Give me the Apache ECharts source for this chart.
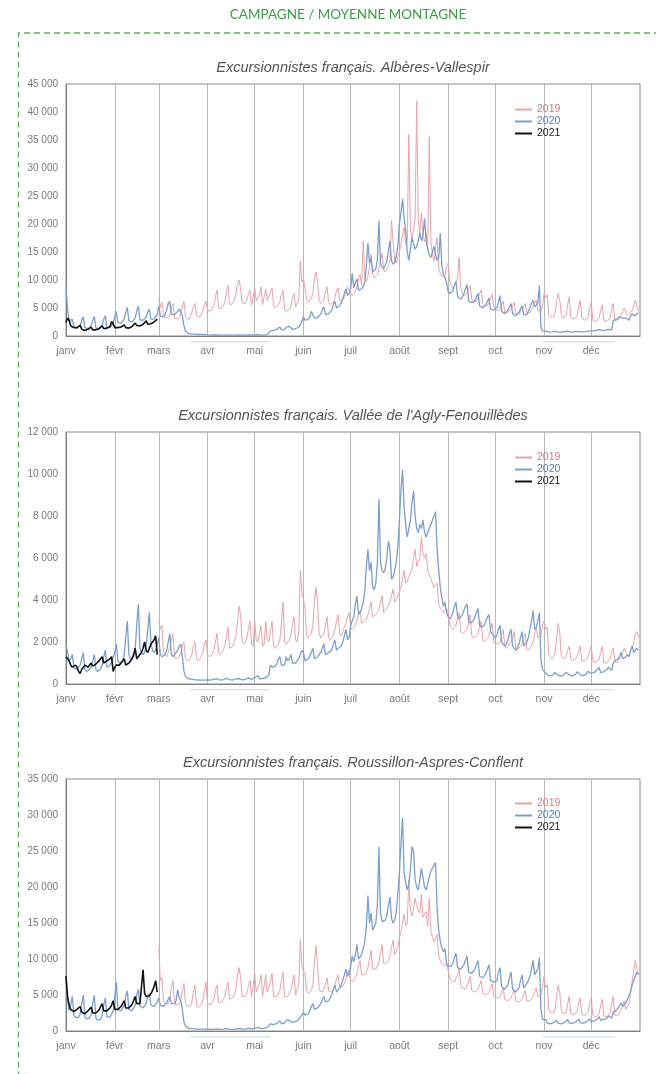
<!DOCTYPE html>
<html>
<head>
<meta charset="utf-8">
<script src="https://cdn.jsdelivr.net/npm/echarts@6/dist/echarts.min.js"></script>
<style>
  html, body { margin: 0; padding: 0; background: #fff; }
  #chart { width: 656px; height: 1074px; }
</style>
</head>
<body>
<div id="chart"></div>
<script>
const heading = 'CAMPAGNE / MOYENNE MONTAGNE'
const chartTitles = [
  'Excursionnistes français. Albères-Vallespir',
  "Excursionnistes français. Vallée de l'Agly-Fenouillèdes",
  'Excursionnistes français. Roussillon-Aspres-Conflent'
]
const monthNames = ['janv', 'févr', 'mars', 'avr', 'mai', 'juin', 'juil', 'août', 'sept', 'oct', 'nov', 'déc']
const monthDays = [31, 28, 31, 30, 31, 30, 31, 31, 30, 31, 30, 31]
const years = ['2019', '2020', '2021']
const yMax = [45000, 12000, 35000]
const yStep = [5000, 2000, 5000]
// confinements (jour de l'année, début / fin)
const lockdowns = [[79, 130], [303, 349]]

// Albères-Vallespir : 2019 commence en mars
const alb2019 = [
  [6800, 5200, 6000, 3800, 3200, 3000, 3400, 3800, 5000, 5800, 3200, 2900, 3000, 3300, 3900, 5200, 6200, 3400, 3100, 3000, 3500, 4200, 5200, 5800, 3600, 3300, 3400, 3800, 4600, 5400, 6200],
  [4600, 4300, 4500, 4800, 5400, 7000, 8200, 5000, 4700, 4900, 5300, 6000, 7800, 9000, 5600, 5400, 5800, 6500, 7400, 9200, 10000, 8600, 5900, 5600, 5800, 6400, 7600, 8200, 5400, 5200],
  [8600, 6200, 6000, 7400, 8800, 5600, 5800, 8400, 6400, 6200, 7800, 8600, 5400, 5000, 5200, 5600, 6200, 7400, 8200, 4800, 4400, 4200, 4800, 5400, 6800, 7600, 5200, 5000, 6400, 13400, 9600],
  [10200, 8400, 6400, 6000, 6200, 6800, 7600, 10400, 11400, 9400, 6200, 5800, 5600, 6400, 8000, 8800, 6000, 5600, 5400, 6000, 6800, 8200, 8600, 6400, 6200, 6400, 7000, 7800, 8800, 9000],
  [7600, 7200, 7400, 8000, 8800, 10200, 11000, 9000, 17000, 10400, 9800, 10600, 12400, 14600, 11000, 10400, 10200, 11000, 12000, 13400, 14800, 11800, 11400, 11600, 12400, 13600, 20600, 16800, 13600, 13000, 14200],
  [15000, 16400, 18000, 19400, 16400, 17000, 36000, 19200, 17200, 19000, 21000, 42000, 20400, 18600, 22000, 17400, 16800, 18400, 15600, 35600, 17000, 14600, 13400, 15800, 17600, 12000, 11200, 10600, 10400, 10800, 12400],
  [13000, 9800, 9000, 8600, 8800, 9400, 10400, 14000, 8600, 7600, 7200, 7000, 7600, 8400, 9000, 6600, 6200, 6000, 6200, 6800, 7600, 8200, 5800, 5400, 5200, 5400, 6000, 6800, 7400, 5200],
  [4600, 4400, 4500, 5000, 5600, 6200, 4200, 4000, 4200, 4400, 4800, 5400, 6000, 4000, 3800, 3900, 4200, 4600, 5200, 5800, 4200, 4000, 4200, 4600, 5000, 5800, 6400, 4600, 4400, 4400, 5400],
  [7600, 6800, 7400, 3800, 3400, 3200, 3400, 4000, 6200, 7600, 6400, 3600, 3200, 3200, 3600, 5600, 7000, 3400, 3000, 3000, 3200, 3600, 5200, 6400, 3200, 2900, 2800, 3000, 3400, 5000],
  [6000, 2800, 2600, 2500, 2700, 3200, 4600, 5600, 2800, 2600, 2600, 2800, 3300, 4800, 5800, 2900, 2800, 2900, 3200, 3800, 4400, 5000, 4200, 3800, 3600, 4200, 4600, 5400, 6400, 5400, 4400]
]
const alb2020 = [
  [8800, 4800, 2600, 2400, 3000, 1600, 1400, 1400, 1500, 1800, 2800, 3400, 1500, 1300, 1300, 1400, 1800, 2800, 3500, 1400, 1300, 1300, 1500, 1900, 3000, 3600, 1500, 1400, 1500, 1700, 2200],
  [3400, 4400, 2400, 2200, 2300, 2500, 3000, 4200, 5100, 2700, 2500, 2500, 2700, 3200, 4500, 5300, 2900, 2800, 2800, 3000, 3400, 4300, 4800, 3000, 2900, 3000, 3200, 3800],
  [5400, 3600, 3400, 3400, 3800, 4600, 5800, 6200, 3800, 3600, 3800, 4000, 4400, 4800, 5000, 3600, 1800, 900, 600, 450, 400, 380, 350, 340, 320, 300, 300, 290, 280, 280, 270],
  [160, 150, 150, 160, 180, 200, 190, 150, 140, 150, 150, 170, 190, 180, 150, 150, 140, 150, 170, 190, 190, 160, 150, 150, 160, 180, 210, 200, 160, 160],
  [200, 220, 230, 180, 170, 180, 190, 220, 260, 280, 900, 1000, 1000, 1100, 1200, 1500, 1600, 1100, 1100, 1150, 1600, 1400, 1700, 1800, 1200, 1200, 1300, 1400, 1600, 2000, 2200],
  [3400, 2800, 2900, 3000, 3400, 4400, 4600, 3200, 3200, 3300, 3500, 3900, 4800, 5200, 3800, 3800, 4000, 4200, 4600, 5600, 6200, 5000, 5000, 5400, 6000, 6600, 7600, 8400, 7200, 7600],
  [8400, 11200, 8600, 9400, 10200, 8200, 8000, 8400, 8800, 9600, 12600, 16600, 13000, 14000, 11400, 11200, 12000, 13600, 20600, 13000, 12400, 12000, 12600, 13400, 15200, 17000, 13400, 12800, 13200, 14200, 16000],
  [20000, 22000, 24500, 21000, 19000, 15000, 13500, 15500, 17500, 16500, 15500, 16000, 17000, 18500, 17000, 18000, 21000, 17000, 15500, 14500, 14000, 15000, 16000, 14500, 13500, 14000, 18400, 12500, 11000, 10500, 9500],
  [8000, 7600, 7400, 8000, 9000, 9800, 7000, 6800, 6600, 7000, 7600, 8400, 9200, 6400, 6000, 5800, 6000, 6400, 7000, 7600, 5400, 5200, 5000, 5200, 5600, 6200, 6800, 4800, 4600, 4600],
  [4600, 5000, 6000, 7200, 4400, 4200, 4000, 4200, 4600, 5200, 5800, 4000, 3800, 3600, 3800, 4200, 4800, 5400, 3800, 3600, 3800, 4400, 5000, 5800, 6400, 5200, 5400, 5800, 9000, 1600, 900],
  [800, 850, 700, 680, 700, 720, 760, 820, 880, 700, 680, 700, 720, 760, 800, 860, 700, 690, 700, 720, 760, 820, 880, 720, 700, 720, 740, 780, 860, 920],
  [900, 920, 950, 1000, 1100, 1150, 980, 1000, 1020, 1050, 1100, 1200, 1250, 1100, 2800, 3000, 2900, 3100, 3400, 3600, 3200, 3100, 3200, 3000, 2800, 3600, 4000, 3600, 3700, 3900, 4200]
]
const alb2021 = [
  [2400, 3200, 2800, 1800, 1600, 1500, 1400, 1500, 1800, 1900, 1200, 1100, 1000, 1100, 1200, 1500, 1600, 1100, 1000, 1100, 1100, 1300, 1600, 1800, 1300, 1300, 1400, 1500, 1700, 2600, 2200],
  [1500, 1400, 1500, 1500, 1600, 1800, 2000, 1500, 1400, 1400, 1500, 1700, 2000, 2300, 1900, 1800, 1800, 1900, 2100, 2400, 2700, 2100, 2000, 2200, 2300, 2500, 2800, 3000]
]

// Vallée de l'Agly-Fenouillèdes
const agly2019 = [
  [3000, 2600, 2800, 1500, 1400, 1300, 1500, 1700, 2100, 2400, 1300, 1200, 1200, 1300, 1500, 1800, 2000, 1200, 1100, 1100, 1200, 1400, 1800, 2000, 1200, 1100, 1200, 1300, 1500, 1900, 2100],
  [1400, 1300, 1300, 1400, 1600, 2000, 2400, 1500, 1400, 1500, 1600, 1800, 2200, 2700, 1700, 1700, 1800, 2000, 2300, 2900, 3700, 3300, 2000, 1900, 2000, 2200, 2600, 3000, 1900, 1800],
  [3000, 2100, 2000, 2400, 2800, 1800, 1900, 3000, 2100, 2000, 2500, 3000, 1800, 1700, 1800, 1900, 2100, 2900, 3900, 2000, 1900, 2000, 2100, 2300, 2800, 3200, 2100, 2000, 2500, 5400, 4400],
  [4000, 3600, 2300, 2200, 2200, 2400, 2800, 4000, 4600, 3800, 2400, 2200, 2200, 2400, 2800, 3200, 2200, 2100, 2200, 2300, 2600, 3000, 3300, 2400, 2300, 2500, 2700, 2900, 3200, 3400],
  [2700, 2600, 2700, 2800, 3000, 3300, 3500, 2900, 2900, 3000, 3100, 3300, 3600, 3900, 3200, 3200, 3300, 3400, 3600, 3900, 4200, 3400, 3500, 3600, 3700, 3900, 4200, 4500, 3900, 4000, 4200],
  [4400, 4600, 5000, 5400, 4800, 4900, 5100, 5300, 5500, 6000, 6400, 5600, 5800, 6000, 7000, 6200, 6000, 6200, 5400, 5200, 5000, 4800, 4600, 4700, 4800, 3800, 3600, 3500, 3400, 3500, 3600],
  [3400, 2800, 2700, 2600, 2700, 2800, 3100, 3400, 2500, 2400, 2400, 2500, 2600, 2900, 3300, 2300, 2200, 2200, 2300, 2400, 2700, 3000, 2100, 2000, 2100, 2200, 2300, 2600, 2900, 2000],
  [2000, 1900, 1900, 2000, 2300, 2600, 1800, 1700, 1800, 1900, 2000, 2200, 2500, 1700, 1700, 1700, 1800, 1900, 2200, 2400, 1700, 1600, 1700, 1800, 2000, 2400, 2700, 2200, 2200, 2300, 2800],
  [3000, 2600, 2700, 1400, 1300, 1200, 1300, 1500, 2200, 2900, 2400, 1300, 1200, 1200, 1300, 1600, 1800, 1200, 1100, 1100, 1200, 1300, 1600, 1800, 1100, 1100, 1100, 1200, 1300, 1600],
  [1800, 1100, 1000, 1000, 1100, 1200, 1500, 1800, 1000, 1000, 1000, 1100, 1200, 1500, 1700, 1100, 1000, 1100, 1200, 1300, 1500, 1700, 1500, 1400, 1300, 1600, 1700, 2000, 2400, 2500, 2200]
]
const agly2020 = [
  [1900, 1500, 1100, 1200, 1400, 800, 700, 700, 800, 900, 1200, 1500, 700, 600, 600, 700, 800, 1100, 1400, 700, 600, 600, 700, 900, 1300, 1600, 800, 800, 900, 1000, 1300],
  [1500, 1900, 1100, 1000, 1000, 1100, 1400, 2200, 3000, 1400, 1200, 1200, 1300, 1700, 2800, 3800, 1700, 1500, 1400, 1500, 1800, 2600, 3400, 2000, 1600, 1500, 1600, 1900],
  [2200, 1400, 1300, 1300, 1400, 1600, 2000, 2400, 1400, 1300, 1400, 1500, 1600, 1800, 1900, 1300, 600, 350, 300, 250, 250, 230, 220, 200, 200, 190, 190, 180, 180, 180, 170],
  [200, 190, 180, 200, 230, 260, 240, 200, 190, 190, 210, 240, 270, 250, 210, 200, 190, 210, 250, 280, 260, 210, 200, 200, 220, 260, 290, 270, 220, 210],
  [300, 350, 400, 250, 240, 260, 270, 300, 380, 420, 900, 800, 800, 850, 950, 1200, 1300, 900, 850, 900, 1300, 1100, 1200, 1400, 1000, 950, 1000, 1100, 1200, 1400, 1600],
  [1500, 1100, 1100, 1200, 1300, 1500, 1700, 1200, 1200, 1300, 1300, 1500, 1700, 1900, 1400, 1400, 1500, 1500, 1600, 1900, 2100, 1600, 1700, 1700, 1800, 2000, 2300, 2600, 2100, 2200],
  [2800, 3000, 3200, 3800, 4200, 3300, 3400, 3600, 3900, 4400, 5600, 6400, 5400, 5800, 4600, 4500, 4800, 5800, 8800, 5800, 5400, 5300, 5500, 6000, 6800, 6400, 5000, 5100, 5400, 5800, 6500],
  [7800, 9200, 10200, 8400, 7600, 7000, 7400, 7800, 8600, 9200, 8000, 7400, 7200, 7600, 7400, 7800, 7200, 7000, 7200, 7400, 7600, 7800, 8000, 8200, 6400, 5400, 4600, 4100, 3700, 3900, 3400],
  [3200, 3100, 3200, 3400, 3700, 3900, 3200, 3100, 3200, 3300, 3500, 3700, 3800, 3000, 2900, 2900, 3000, 3200, 3400, 3600, 2800, 2700, 2700, 2800, 3000, 3200, 3300, 2500, 2400, 2400],
  [2200, 2300, 2600, 2800, 2000, 1900, 1800, 1900, 2100, 2400, 2600, 1800, 1700, 1600, 1700, 1900, 2200, 2500, 1800, 1900, 2000, 2200, 2600, 3000, 3500, 2600, 2700, 3000, 3400, 1200, 700],
  [600, 650, 450, 400, 380, 400, 450, 550, 620, 420, 380, 370, 400, 450, 560, 640, 430, 390, 380, 400, 460, 580, 650, 440, 400, 400, 430, 480, 600, 680],
  [500, 520, 550, 600, 700, 800, 550, 560, 580, 620, 700, 800, 850, 650, 1000, 1100, 1100, 1200, 1300, 1500, 1200, 1200, 1300, 1400, 1300, 1600, 1800, 1500, 1600, 1700, 1600]
]
const agly2021 = [
  [1300, 1200, 1100, 900, 800, 850, 900, 800, 600, 500, 700, 800, 900, 850, 800, 900, 1000, 850, 900, 950, 1000, 1100, 1200, 1300, 1000, 1000, 1100, 1100, 1200, 1300, 600],
  [800, 900, 950, 900, 1000, 1100, 1200, 900, 950, 1000, 1100, 1200, 1400, 1700, 1200, 1300, 1400, 1500, 1700, 2000, 1600, 1500, 1700, 1900, 2000, 2100, 2300, 1400]
]

// Roussillon-Aspres-Conflent
const rou2019 = [
  [11500, 7000, 7400, 4200, 3800, 3600, 3800, 4400, 6000, 7000, 4000, 3600, 3500, 3700, 4200, 5600, 6600, 3800, 3400, 3300, 3500, 4000, 5400, 6400, 3600, 3300, 3300, 3600, 4200, 5600, 6800],
  [3800, 3600, 3600, 3800, 4400, 5600, 6400, 4000, 3900, 4000, 4200, 4800, 6000, 6800, 4400, 4400, 4600, 5000, 5800, 7600, 8800, 7600, 4800, 4600, 4800, 5200, 6200, 7000, 4800, 4600],
  [8000, 5400, 5200, 6600, 7800, 4800, 5000, 7800, 5400, 5200, 6800, 8000, 4800, 4600, 4800, 5000, 5600, 7000, 8200, 4800, 4600, 4800, 5000, 5600, 6800, 7800, 5000, 5000, 6400, 12600, 9000],
  [8800, 7800, 5600, 5200, 5200, 5600, 6400, 9600, 11800, 9000, 5600, 5400, 5400, 5800, 6600, 7400, 5600, 5400, 5400, 5800, 6400, 7200, 7800, 6000, 6000, 6200, 6600, 7200, 8000, 8400],
  [7000, 6800, 7000, 7400, 8000, 9000, 9800, 7800, 7600, 7800, 8200, 8800, 10000, 11200, 8600, 8400, 8600, 9000, 9600, 10800, 12000, 9400, 9200, 9400, 9800, 10400, 11600, 12600, 10600, 10800, 11600],
  [13000, 13800, 15000, 16200, 14600, 15000, 21000, 16800, 16000, 17000, 18400, 17400, 16800, 16400, 19000, 15800, 15600, 16600, 14600, 18400, 14000, 13000, 12400, 12800, 13400, 10400, 9800, 9400, 9200, 9000, 9400],
  [9600, 7400, 7000, 6800, 6800, 7000, 7800, 8600, 6400, 6000, 5800, 5800, 6000, 6800, 7600, 5600, 5400, 5400, 5600, 5800, 6400, 7000, 5200, 5000, 5000, 5200, 5400, 6000, 6600, 4800],
  [4800, 4600, 4600, 4800, 5400, 6000, 4400, 4200, 4200, 4400, 4600, 5200, 5800, 4200, 4000, 4000, 4200, 4400, 5000, 5600, 4200, 4000, 4200, 4400, 4800, 5400, 6000, 4800, 4800, 5000, 6400],
  [7600, 6000, 6400, 3000, 2600, 2400, 2500, 3000, 4800, 6400, 5200, 2800, 2400, 2300, 2500, 3800, 4800, 2400, 2200, 2200, 2300, 2700, 3800, 4600, 2300, 2100, 2100, 2200, 2600, 3800],
  [4600, 2200, 2000, 1900, 2000, 2400, 3600, 4400, 2100, 2000, 2000, 2100, 2500, 3800, 4800, 2200, 2100, 2200, 2400, 2900, 3600, 4200, 3000, 3200, 3800, 5400, 6800, 8400, 9800, 8600, 8000]
]
const rou2020 = [
  [7600, 4400, 2800, 3600, 4800, 2200, 1900, 1800, 1900, 2400, 3800, 5000, 2000, 1700, 1600, 1800, 2300, 3800, 5000, 1800, 1500, 1400, 1600, 2200, 3600, 4600, 2000, 1800, 1900, 2100, 2800],
  [4800, 6800, 3000, 2800, 2800, 3000, 3600, 4800, 5600, 3000, 2800, 2800, 3000, 3600, 5000, 5800, 3400, 3200, 3200, 3400, 3800, 4800, 5200, 3600, 3400, 3400, 3600, 4000],
  [4600, 3600, 3400, 3400, 3600, 3900, 4400, 4800, 3800, 3600, 3800, 4200, 5700, 4600, 4200, 3000, 1200, 700, 500, 400, 350, 320, 300, 300, 280, 270, 260, 260, 250, 250, 240],
  [240, 230, 230, 240, 260, 300, 280, 240, 230, 230, 250, 280, 320, 300, 250, 240, 230, 250, 290, 330, 310, 260, 250, 250, 270, 310, 350, 330, 270, 260],
  [400, 450, 500, 330, 320, 340, 360, 420, 500, 560, 1000, 900, 900, 950, 1050, 1300, 1400, 1000, 1000, 1100, 1500, 1300, 1500, 1700, 1200, 1200, 1300, 1400, 1600, 1900, 2100],
  [2600, 2200, 2300, 2400, 2800, 3400, 3800, 3000, 3000, 3200, 3400, 3800, 4400, 4800, 4000, 4000, 4200, 4600, 5000, 5800, 6400, 5400, 5600, 6000, 6400, 7000, 7800, 8600, 7600, 8000],
  [9000, 10400, 9600, 10600, 12000, 10000, 10200, 10600, 11400, 12400, 14600, 18800, 15000, 16400, 14000, 14200, 15000, 17400, 25600, 16400, 15200, 15000, 15400, 16000, 17400, 18600, 15600, 15000, 15400, 16400, 19000],
  [22000, 26000, 29600, 22000, 20600, 19600, 20400, 22400, 25600, 25000, 21000, 20000, 19600, 21000, 22600, 22800, 20000, 19600, 20400, 21400, 22200, 22600, 23000, 23400, 17000, 14000, 12400, 11600, 11000, 11400, 9400],
  [9000, 8800, 9000, 9400, 10200, 10800, 8800, 8600, 8600, 8800, 9200, 9800, 10400, 8200, 8000, 8000, 8200, 8600, 9200, 9800, 7600, 7400, 7400, 7600, 8000, 8600, 9200, 7000, 6800, 6800],
  [6600, 7000, 8200, 8800, 6200, 6000, 5800, 6000, 6400, 7400, 8200, 5800, 5600, 5400, 5600, 6000, 7000, 7800, 6000, 6200, 6600, 7000, 7600, 8600, 9800, 7800, 8000, 8600, 10200, 3000, 1600],
  [1400, 1600, 1100, 1000, 1000, 1050, 1150, 1300, 1500, 1050, 1000, 1000, 1100, 1200, 1400, 1600, 1100, 1050, 1050, 1100, 1250, 1450, 1650, 1150, 1100, 1100, 1200, 1300, 1500, 1700],
  [1300, 1300, 1400, 1500, 1700, 2000, 1500, 1500, 1600, 1600, 1800, 2100, 2300, 1800, 2600, 2800, 2900, 3100, 3500, 3900, 3400, 3600, 3900, 4400, 4200, 5400, 6400, 7000, 7600, 8200, 7800]
]
const rou2021 = [
  [7600, 4800, 3600, 3000, 2800, 2700, 2800, 3000, 3200, 3400, 2600, 2500, 2400, 2600, 2800, 3000, 3300, 2500, 2400, 2500, 2600, 2900, 3400, 3800, 2800, 2700, 2800, 3000, 3200, 3600, 4200],
  [3000, 2900, 3000, 3100, 3400, 3800, 4200, 3200, 3100, 3200, 3400, 3700, 4200, 4800, 3800, 3600, 3800, 4000, 8500, 5200, 4800, 4800, 4900, 5200, 5600, 6200, 7000, 5400]
]

const seriesByChart = [
  [[alb2019, 2], [alb2020, 0], [alb2021, 0]],
  [[agly2019, 2], [agly2020, 0], [agly2021, 0]],
  [[rou2019, 2], [rou2020, 0], [rou2021, 0]]
]

const colors = ['#e8a4ab', '#7d9fcd', '#141414']
const legendColors = ['#d77a86', '#5b80bb', '#1a1a1a']
const lineWidths = [1, 1.3, 1.6]
const font = 'Liberation Sans, Arial, sans-serif'

const monthStart = []
let total = 0
for (const d of monthDays) {
  monthStart.push(total)
  total += d
}
const dayCount = total + 1
const dayLabels = []
for (let i = 0; i < dayCount; i++) {
  const m = monthStart.indexOf(i)
  dayLabels.push(m >= 0 ? monthNames[m] : '')
}

function daily(monthly, firstMonth) {
  const out = new Array(dayCount).fill(null)
  monthly.forEach((vals, i) => {
    const m = firstMonth + i
    vals.slice(0, monthDays[m]).forEach((v, j) => {
      out[monthStart[m] + j] = v
    })
  })
  return out
}

function lockdownLine() {
  const out = new Array(dayCount).fill(null)
  for (const [a, b] of lockdowns) {
    for (let i = a; i <= b; i++) out[i] = 0
  }
  return out
}

function thousands(v) {
  return String(v).replace(/\B(?=(\d{3})+(?!\d))/g, ' ')
}

const plotLeft = 66
const plotRight = 16
const plotTop = [84, 432, 779]
const plotHeight = 252
const titleTop = [60, 408, 755]
const legendTop = [104, 452, 798]

const isMonthStart = idx => monthStart.indexOf(idx) >= 0

const grid = []
const xAxis = []
const yAxis = []
const series = []
const title = [{
  text: heading,
  left: 348,
  top: 8,
  textAlign: 'center',
  padding: 0,
  textStyle: { fontFamily: 'Lato, Open Sans, sans-serif', fontSize: 13.5, fontWeight: 'normal', color: '#3c9e47' }
}]
const legend = []

for (let k = 0; k < 3; k++) {
  grid.push({
    left: plotLeft, right: plotRight, top: plotTop[k], height: plotHeight,
    show: true, borderColor: '#8c8c8c', borderWidth: 1, backgroundColor: 'transparent',
    outerBoundsMode: 'none'
  })
  xAxis.push({
    type: 'category',
    gridIndex: k,
    data: dayLabels,
    boundaryGap: false,
    axisLine: { show: true, lineStyle: { color: '#808080', width: 1 } },
    axisTick: { show: false },
    axisLabel: {
      interval: idx => isMonthStart(idx),
      color: '#7a7a7a',
      fontFamily: font,
      fontSize: 10.5,
      margin: 10
    },
    splitLine: {
      show: true,
      interval: idx => idx > 0 && isMonthStart(idx),
      lineStyle: { color: '#b8b8b8', width: 1 }
    }
  })
  yAxis.push({
    type: 'value',
    gridIndex: k,
    min: 0,
    max: yMax[k],
    interval: yStep[k],
    axisLine: { show: true, lineStyle: { color: '#808080' } },
    axisTick: { show: false },
    splitLine: { show: false },
    axisLabel: {
      formatter: thousands,
      color: '#7a7a7a',
      fontFamily: font,
      fontSize: 10,
      margin: 8
    }
  })
  title.push({
    text: chartTitles[k],
    left: 353,
    top: titleTop[k],
    textAlign: 'center',
    padding: 0,
    textStyle: { fontFamily: font, fontSize: 14.5, fontStyle: 'italic', fontWeight: 'normal', color: '#555' }
  })
  legend.push({
    left: 515,
    top: legendTop[k],
    orient: 'vertical',
    padding: 0,
    itemGap: 1,
    itemWidth: 17,
    itemHeight: 2,
    icon: 'rect',
    selectedMode: false,
    textStyle: { fontFamily: font, fontSize: 10.5 },
    data: years.map((y, i) => ({ name: y, textStyle: { color: legendColors[i] } }))
  })
  seriesByChart[k].forEach(([monthly, firstMonth], i) => {
    series.push({
      type: 'line',
      name: years[i],
      xAxisIndex: k,
      yAxisIndex: k,
      data: daily(monthly, firstMonth),
      symbol: 'none',
      showSymbol: false,
      connectNulls: true,
      silent: true,
      z: 2 + i,
      lineStyle: { color: colors[i], width: lineWidths[i] },
      itemStyle: { color: colors[i] }
    })
  })
}

// trait clair sous l'axe pour les périodes de confinement
for (let k = 0; k < 3; k++) {
  grid.push({
    left: plotLeft, right: plotRight, top: plotTop[k] + plotHeight + 5, height: 1,
    outerBoundsMode: 'none'
  })
  xAxis.push({ type: 'category', gridIndex: 3 + k, data: dayLabels, boundaryGap: false, show: false })
  yAxis.push({ type: 'value', gridIndex: 3 + k, min: 0, max: 1, show: false })
  series.push({
    type: 'line',
    name: 'confinement',
    xAxisIndex: 3 + k,
    yAxisIndex: 3 + k,
    data: lockdownLine(),
    symbol: 'none',
    connectNulls: false,
    silent: true,
    lineStyle: { color: '#b3cde3', width: 1.2 }
  })
}

const chart = echarts.init(document.getElementById('chart'))
chart.setOption({
  animation: false,
  backgroundColor: '#fff',
  title: title,
  legend: legend,
  grid: grid,
  xAxis: xAxis,
  yAxis: yAxis,
  series: series,
  graphic: [{
    type: 'polyline',
    silent: true,
    shape: { points: [[660, 33], [18.5, 33], [18.5, 1080]] },
    style: { fill: null, stroke: '#5fac5f', lineWidth: 1.3, lineDash: [6, 4] }
  }]
})
</script>
</body>
</html>
